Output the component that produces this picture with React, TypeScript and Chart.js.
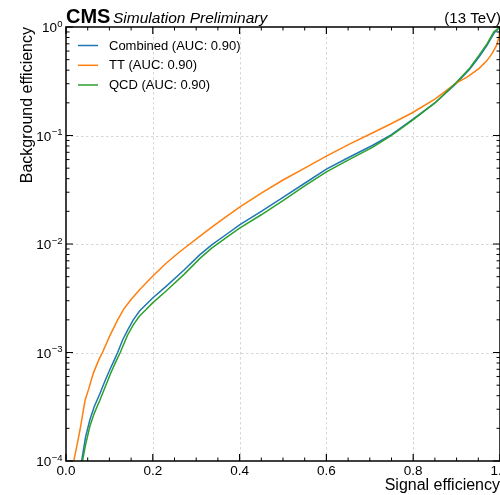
import React, { useEffect, useRef } from "react";
import { Chart, registerables } from "chart.js";

Chart.register(...registerables);

// ---- Data (signal efficiency vs background efficiency) ----
const combinedSig = [0.036, 0.045, 0.055, 0.065, 0.078, 0.09, 0.102, 0.113, 0.119, 0.13, 0.142, 0.155, 0.169, 0.184, 0.199, 0.23, 0.272, 0.308, 0.335, 0.37, 0.4, 0.45, 0.5, 0.55, 0.6, 0.65, 0.707, 0.75, 0.798, 0.85, 0.898, 0.93, 0.952, 0.97, 0.986, 1.0];
const combinedBkg = [1.0e-4, 1.66e-4, 2.4e-4, 3.16e-4, 4.17e-4, 5.5e-4, 7.08e-4, 8.83e-4, 1.0e-3, 1.29e-3, 1.61e-3, 2.0e-3, 2.4e-3, 2.75e-3, 3.16e-3, 4.05e-3, 5.75e-3, 7.94e-3, 9.77e-3, 1.23e-2, 1.5e-2, 2.0e-2, 2.69e-2, 3.63e-2, 4.9e-2, 6.24e-2, 8.13e-2, 0.102, 0.14, 0.1995, 0.299, 0.407, 0.532, 0.676, 0.875, 1.0];

const ttSig = [0.018, 0.025, 0.032, 0.038, 0.044, 0.052, 0.063, 0.077, 0.084, 0.1, 0.119, 0.133, 0.149, 0.17, 0.199, 0.23, 0.258, 0.274, 0.308, 0.339, 0.37, 0.4, 0.45, 0.5, 0.55, 0.6, 0.653, 0.707, 0.75, 0.798, 0.85, 0.898, 0.925, 0.952, 0.97, 0.982, 0.992, 0.998, 1.0];
const ttBkg = [1.0e-4, 1.38e-4, 1.91e-4, 2.63e-4, 3.63e-4, 4.57e-4, 6.46e-4, 8.83e-4, 1.0e-3, 1.4e-3, 2.0e-3, 2.51e-3, 3.05e-3, 3.8e-3, 5.01e-3, 6.61e-3, 8.22e-3, 9.23e-3, 1.175e-2, 1.46e-2, 1.8e-2, 2.19e-2, 2.95e-2, 3.89e-2, 5.01e-2, 6.46e-2, 8.32e-2, 0.106, 0.129, 0.162, 0.216, 0.302, 0.347, 0.416, 0.49, 0.571, 0.676, 0.815, 1.0];

const qcdSig = [0.038, 0.045, 0.055, 0.065, 0.078, 0.09, 0.102, 0.113, 0.125, 0.13, 0.142, 0.155, 0.169, 0.184, 0.199, 0.23, 0.272, 0.308, 0.335, 0.37, 0.4, 0.45, 0.5, 0.55, 0.6, 0.65, 0.707, 0.75, 0.798, 0.85, 0.898, 0.93, 0.952, 0.97, 0.986, 1.0];
const qcdBkg = [1.0e-4, 1.41e-4, 2.09e-4, 2.75e-4, 3.63e-4, 4.79e-4, 6.31e-4, 7.94e-4, 1.0e-3, 1.12e-3, 1.45e-3, 1.8e-3, 2.16e-3, 2.48e-3, 2.85e-3, 3.67e-3, 5.25e-3, 7.33e-3, 9.12e-3, 1.15e-2, 1.4e-2, 1.86e-2, 2.51e-2, 3.43e-2, 4.62e-2, 5.92e-2, 7.8e-2, 0.1, 0.138, 0.1995, 0.305, 0.417, 0.55, 0.7, 0.902, 1.0];

const seriesLabels = ["Combined (AUC: 0.90)", "TT (AUC: 0.90)", "QCD (AUC: 0.90)"];
const seriesColors = ["#1f77b4", "#ff7f0e", "#2ca02c"];

const xMajorTicks = [0, 0.2, 0.4, 0.6, 0.8, 1.0];
const xTickLabels = ["0.0", "0.2", "0.4", "0.6", "0.8", "1.0"];
const xMinorTicks = [0.05, 0.1, 0.15, 0.25, 0.3, 0.35, 0.45, 0.5, 0.55, 0.65, 0.7, 0.75, 0.85, 0.9, 0.95];
const yMajorTicks = [1, 1e-1, 1e-2, 1e-3, 1e-4];
const yTickExponents = ["0", "\u22121", "\u22122", "\u22123", "\u22124"];
const yMinorMultipliers = [2, 3, 4, 5, 6, 7, 8, 9];

const FONT = "'Liberation Sans', Arial, Helvetica, sans-serif";

function toPoints(xs: number[], ys: number[]) {
  return xs.map((v, i) => ({ x: v, y: ys[i] }));
}

const decorPlugin = {
  id: "cmsDecor",
  beforeDatasetsDraw(chart: any) {
    const { ctx, chartArea: a } = chart;
    const xs = chart.scales.x;
    const ys = chart.scales.y;
    ctx.save();
    ctx.strokeStyle = "rgba(0,0,0,0.16)";
    ctx.lineWidth = 1;
    ctx.setLineDash([2.5, 2.5]);
    xMajorTicks.forEach((v) => {
      const px = Math.round(xs.getPixelForValue(v)) + 0.5;
      if (px <= a.left + 2 || px >= a.right - 2) return;
      ctx.beginPath();
      ctx.moveTo(px, a.top);
      ctx.lineTo(px, a.bottom);
      ctx.stroke();
    });
    yMajorTicks.forEach((v) => {
      const py = Math.round(ys.getPixelForValue(v)) + 0.5;
      if (py <= a.top + 2 || py >= a.bottom - 2) return;
      ctx.beginPath();
      ctx.moveTo(a.left, py);
      ctx.lineTo(a.right, py);
      ctx.stroke();
    });
    ctx.restore();
  },
  afterDraw(chart: any) {
    const { ctx, chartArea: a } = chart;
    const xs = chart.scales.x;
    const ys = chart.scales.y;
    ctx.save();
    ctx.setLineDash([]);
    ctx.strokeStyle = "#000";

    const majorLen = 7;
    const minorLen = 3.5;
    const drawXTick = (v: number, len: number, w: number) => {
      const px = xs.getPixelForValue(v);
      ctx.lineWidth = w;
      ctx.beginPath();
      ctx.moveTo(px, a.bottom);
      ctx.lineTo(px, a.bottom - len);
      ctx.moveTo(px, a.top);
      ctx.lineTo(px, a.top + len);
      ctx.stroke();
    };
    xMajorTicks.forEach((v) => drawXTick(v, majorLen, 1.2));
    xMinorTicks.forEach((v) => drawXTick(v, minorLen, 1));

    const drawYTick = (v: number, len: number, w: number) => {
      const py = ys.getPixelForValue(v);
      ctx.lineWidth = w;
      ctx.beginPath();
      ctx.moveTo(a.left, py);
      ctx.lineTo(a.left + len, py);
      ctx.moveTo(a.right, py);
      ctx.lineTo(a.right - len, py);
      ctx.stroke();
    };
    yMajorTicks.forEach((v) => drawYTick(v, majorLen, 1.2));
    yMajorTicks.forEach((dec) => {
      if (dec >= 1) return;
      yMinorMultipliers.forEach((m) => drawYTick(dec * m, minorLen, 1));
    });

    // spine
    ctx.lineWidth = 1.5;
    ctx.strokeRect(a.left, a.top, a.right - a.left, a.bottom - a.top);

    ctx.fillStyle = "#000";
    // x tick labels
    ctx.font = `13.5px ${FONT}`;
    ctx.textAlign = "center";
    ctx.textBaseline = "alphabetic";
    xMajorTicks.forEach((v, i) => {
      ctx.fillText(xTickLabels[i], xs.getPixelForValue(v), a.bottom + 14);
    });

    // y tick labels 10^n
    const rightEdge = a.left - 3.5;
    yMajorTicks.forEach((v, i) => {
      const py = ys.getPixelForValue(v);
      ctx.font = `9.5px ${FONT}`;
      const ew = ctx.measureText(yTickExponents[i]).width;
      ctx.textAlign = "left";
      ctx.fillText(yTickExponents[i], rightEdge - ew, py - 0.5);
      ctx.font = `13.5px ${FONT}`;
      ctx.textAlign = "right";
      ctx.fillText("10", rightEdge - ew - 0.3, py + 5);
    });

    // axis titles
    ctx.font = `16px ${FONT}`;
    ctx.textAlign = "right";
    ctx.textBaseline = "alphabetic";
    ctx.fillText("Signal efficiency", a.right, 490);
    ctx.save();
    ctx.translate(31.5, a.top);
    ctx.rotate(-Math.PI / 2);
    ctx.fillText("Background efficiency", 0, 0);
    ctx.restore();

    // CMS header
    ctx.textAlign = "left";
    ctx.font = `bold 20px ${FONT}`;
    ctx.fillText("CMS", a.left, 23);
    ctx.font = `italic 15.5px ${FONT}`;
    ctx.fillText("Simulation Preliminary", 113, 23);
    ctx.font = `15px ${FONT}`;
    ctx.textAlign = "right";
    ctx.fillText("(13 TeV)", a.right + 1, 22.5);

    // legend
    const legendY = [45.5, 65.3, 85];
    ctx.font = `13px ${FONT}`;
    ctx.textAlign = "left";
    ctx.textBaseline = "middle";
    chart.data.datasets.forEach((ds: any, i: number) => {
      ctx.strokeStyle = ds.borderColor;
      ctx.lineWidth = 1.5;
      ctx.beginPath();
      ctx.moveTo(78, legendY[i]);
      ctx.lineTo(98, legendY[i]);
      ctx.stroke();
      ctx.fillStyle = "#000";
      ctx.fillText(ds.label, 109, legendY[i] + 0.5);
    });
    ctx.restore();
  },
};

export default function App() {
  const canvasRef = useRef<HTMLCanvasElement | null>(null);

  useEffect(() => {
    if (!canvasRef.current) return;
    const chart = new Chart(canvasRef.current, {
      type: "line",
      data: {
        datasets: [
          { label: seriesLabels[0], data: toPoints(combinedSig, combinedBkg), borderColor: seriesColors[0], order: 2 },
          { label: seriesLabels[1], data: toPoints(ttSig, ttBkg), borderColor: seriesColors[1], order: 1 },
          { label: seriesLabels[2], data: toPoints(qcdSig, qcdBkg), borderColor: seriesColors[2], order: 0 },
        ] as any,
      },
      options: {
        animation: false,
        responsive: false,
        maintainAspectRatio: false,
        devicePixelRatio: 1,
        events: [],
        layout: { padding: { top: 27, left: 0, right: 0, bottom: 0 } },
        elements: {
          point: { radius: 0 },
          line: { tension: 0, borderWidth: 1.5, fill: false },
        },
        plugins: {
          legend: { display: false },
          tooltip: { enabled: false },
          title: { display: false },
        },
        scales: {
          x: {
            type: "linear",
            min: 0,
            max: 1,
            grid: { display: false },
            border: { display: false },
            ticks: { display: false },
            afterFit: (s: any) => {
              s.height = 34;
              s.paddingLeft = 0;
              s.paddingRight = 0;
            },
          },
          y: {
            type: "logarithmic",
            min: 1e-4,
            max: 1,
            grid: { display: false },
            border: { display: false },
            ticks: { display: false },
            afterFit: (s: any) => {
              s.width = 66;
              s.paddingTop = 0;
              s.paddingBottom = 0;
            },
          },
        },
      } as any,
      plugins: [decorPlugin as any],
    });
    return () => chart.destroy();
  }, []);

  return (
    <div style={{ position: "absolute", left: 0, top: 0, width: 500, height: 495, background: "#fff" }}>
      <canvas ref={canvasRef} width={500} height={495} style={{ display: "block", width: 500, height: 495 }} />
    </div>
  );
}
